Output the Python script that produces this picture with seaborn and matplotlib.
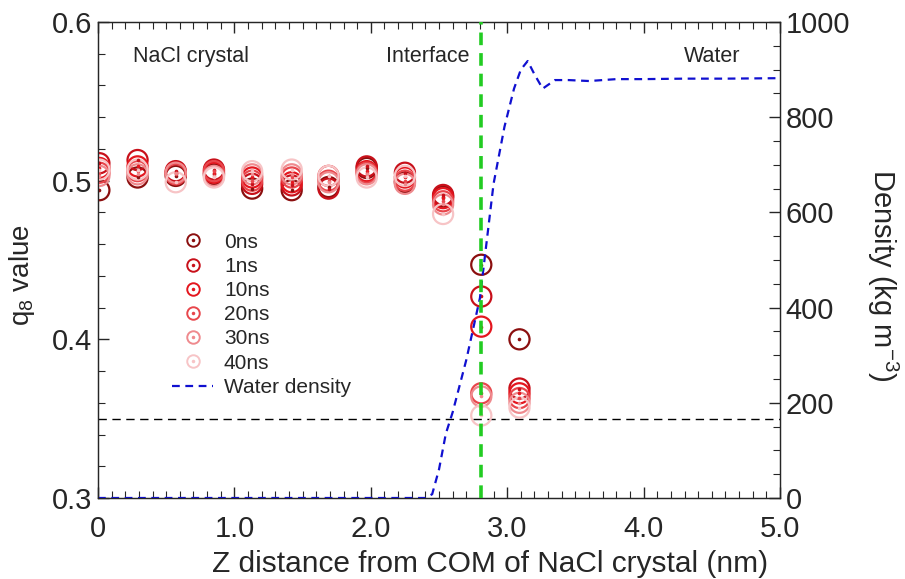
import numpy as np
import pandas as pd
import matplotlib
matplotlib.use("Agg")
import matplotlib.pyplot as plt
import seaborn as sns
from matplotlib.lines import Line2D
from matplotlib.legend_handler import HandlerTuple
from matplotlib.ticker import MultipleLocator

# ---------------- data ----------------
z_pos = [0.01, 0.29, 0.57, 0.85, 1.13, 1.42, 1.69, 1.97, 2.25, 2.53, 2.81, 3.09]
times = ["0ns", "1ns", "10ns", "20ns", "30ns", "40ns"]
q8_0ns  = [0.494, 0.502, 0.503, 0.504, 0.495, 0.494, 0.496, 0.508, 0.499, 0.490, 0.447, 0.400]
q8_1ns  = [0.511, 0.513, 0.506, 0.507, 0.498, 0.497, 0.495, 0.509, 0.505, 0.491, 0.427, 0.369]
q8_10ns = [0.508, 0.509, 0.505, 0.505, 0.502, 0.499, 0.503, 0.506, 0.502, 0.489, 0.408, 0.366]
q8_20ns = [0.505, 0.506, 0.504, 0.506, 0.500, 0.502, 0.500, 0.505, 0.500, 0.487, 0.366, 0.363]
q8_30ns = [0.503, 0.504, 0.505, 0.503, 0.504, 0.504, 0.499, 0.504, 0.498, 0.485, 0.364, 0.360]
q8_40ns = [0.507, 0.507, 0.499, 0.502, 0.506, 0.507, 0.503, 0.502, 0.503, 0.479, 0.352, 0.357]
q8_series = [q8_0ns, q8_1ns, q8_10ns, q8_20ns, q8_30ns, q8_40ns]

dens_z = [0.0, 0.5, 1.0, 1.5, 2.0, 2.40, 2.45, 2.50, 2.55, 2.60, 2.70, 2.80, 2.90, 2.98,
          3.05, 3.10, 3.15, 3.20, 3.26, 3.35, 3.45, 3.60, 3.80, 4.00, 4.30, 4.60, 5.00]
dens_v = [0, 0, 0, 0, 0, 0, 8, 60, 135, 180, 290, 420, 660, 780,
          860, 900, 918, 890, 860, 878, 878, 876, 880, 880, 881, 881, 882]

interface_z = 2.81
q8_threshold = 0.35

colors = ["#8b0f0f", "#c8101a", "#e4161e", "#e8464c", "#ef8a8e", "#f7c4c6"]

# ---------------- build frames ----------------
rows = []
for t, vals in zip(times, q8_series):
    for z, v in zip(z_pos, vals):
        rows.append({"z": z, "q8": v, "time": t})
df = pd.DataFrame(rows)
dens_df = pd.DataFrame({"z": dens_z, "density": dens_v})

sns.set_style("ticks")
plt.rcParams["font.family"] = ["Liberation Sans", "DejaVu Sans"]
plt.rcParams["mathtext.fontset"] = "custom"
plt.rcParams["mathtext.rm"] = "Liberation Sans"
plt.rcParams["mathtext.it"] = "Liberation Sans"

fig = plt.figure(figsize=(9.05, 5.79), dpi=100)
ax = fig.add_axes([98 / 905, 1 - 498 / 579, (780 - 98) / 905, (498 - 22) / 579])

pal = dict(zip(times, colors))
sns.scatterplot(data=df, x="z", y="q8", hue="time", hue_order=times, palette=pal,
                ax=ax, s=210, marker="o", linewidth=1.6, legend=False, zorder=3)
# make the circles open: edge takes the hue colour, face is empty
coll = ax.collections[-1]
fcs = coll.get_facecolors()
coll.set_edgecolors(fcs)
coll.set_facecolors("none")
# centre dots
for t in times:
    sub = df[df["time"] == t]
    ax.plot(sub["z"], sub["q8"], ls="none", marker="o", ms=1.6, color=pal[t], zorder=3)

ax.axhline(q8_threshold, color="black", lw=1.0, ls=(0, (6, 4)), zorder=1)

ax.set_xlim(0, 5.0)
ax.set_ylim(0.3, 0.6)
ax.set_xticks([0, 1, 2, 3, 4, 5])
ax.set_xticklabels(["0", "1.0", "2.0", "3.0", "4.0", "5.0"])
ax.set_yticks([0.3, 0.4, 0.5, 0.6])
ax.set_yticklabels(["0.3", "0.4", "0.5", "0.6"])
ax.xaxis.set_minor_locator(MultipleLocator(0.1))
ax.yaxis.set_minor_locator(MultipleLocator(0.02))
ax.tick_params(axis="both", which="major", direction="in", length=8, width=1.0,
               labelsize=21, top=True, pad=4)
ax.tick_params(axis="x", which="major", pad=12)
ax.tick_params(axis="x", which="minor", direction="in", length=5, width=0.8, top=True)
ax.tick_params(axis="y", which="minor", direction="in", length=5, width=0.8)
ax.set_xlabel("Z distance from COM of NaCl crystal (nm)", fontsize=21.5, va="center")
ax.xaxis.set_label_coords((490 - 98) / 682, -(564 - 498) / 476)
ax.set_ylabel("q$_8$ value", fontsize=20, va="center", ha="center")
ax.yaxis.set_label_coords((22 - 98) / 682, (498 - 275) / 476)
for sp in ax.spines.values():
    sp.set_color("#333333")
    sp.set_linewidth(1.0)

ax2 = ax.twinx()
sns.lineplot(data=dens_df, x="z", y="density", ax=ax2, color="#1010d0", lw=1.6,
             ls=(0, (3.5, 2.5)), legend=False)
ax2.axvline(interface_z, color="#22cc22", lw=2.6, ls=(0, (3.5, 2.2)), zorder=5)
ax2.set_ylim(0, 1000)
ax2.set_yticks([0, 200, 400, 600, 800, 1000])
ax2.yaxis.set_minor_locator(MultipleLocator(50))
ax2.tick_params(axis="y", which="major", direction="in", length=8, width=1.0, labelsize=21, pad=4)
ax2.tick_params(axis="y", which="minor", direction="in", length=5, width=0.8)
ax2.set_ylabel("Density (kg m$^{-3}$)", fontsize=21, rotation=270, va="center", ha="center")
ax2.yaxis.set_label_coords((883 - 98) / 682, (498 - 275) / 476)
ax2.set_xlabel("")
ax2.set_xlim(0, 5.0)

# region labels
ax.text(0.68, 0.578, "NaCl crystal", fontsize=15.5, ha="center", va="center")
ax.text(2.42, 0.578, "Interface", fontsize=15.5, ha="center", va="center")
ax.text(4.5, 0.578, "Water", fontsize=15.5, ha="center", va="center")

# legend
handles = []
for t in times:
    ring = Line2D([], [], ls="none", marker="o", ms=9, mfc="none", mec=pal[t], mew=1.4)
    dot = Line2D([], [], ls="none", marker="o", ms=1.5, color=pal[t])
    handles.append((ring, dot))
handles.append(Line2D([], [], color="#1010d0", lw=1.6, ls=(0, (3.5, 2.5))))
labels = times + ["Water density"]
leg = ax2.legend(handles, labels, handler_map={tuple: HandlerTuple(ndivide=1)},
                 loc="upper left", bbox_to_anchor=(0.096, 0.575), frameon=False,
                 fontsize=15, handlelength=2.0, handletextpad=0.5, labelspacing=0.25,
                 borderaxespad=0)

fig.savefig("out.png", dpi=100)
